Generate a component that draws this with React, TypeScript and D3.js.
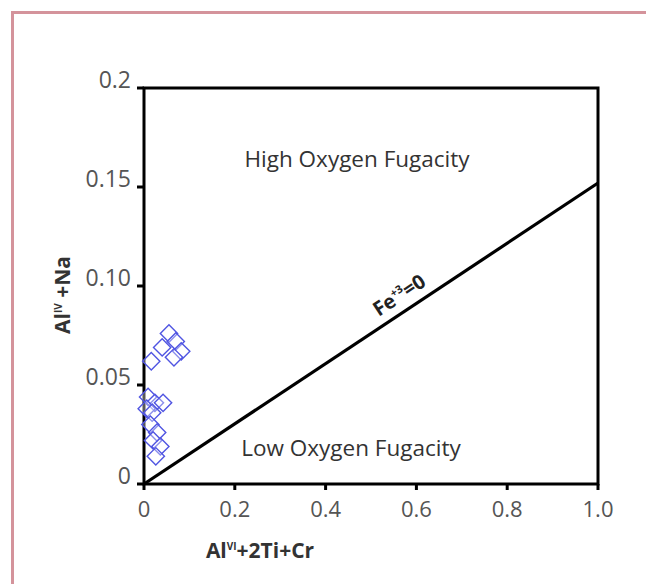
import React from "react";
import * as d3 from "d3";

const xTicks = [0, 0.2, 0.4, 0.6, 0.8, 1.0];
const xTickLabels = ["0", "0.2", "0.4", "0.6", "0.8", "1.0"];
const yTicks = [0, 0.05, 0.1, 0.15, 0.2];
const yTickLabels = ["0", "0.05", "0.10", "0.15", "0.2"];
const lineX = [0, 1.0];
const lineY = [0, 0.152];
const ptsX = [0.055, 0.07, 0.04, 0.082, 0.066, 0.016,
  0.009, 0.024, 0.042, 0.006, 0.018,
  0.014, 0.029, 0.02, 0.036, 0.026];
const ptsY = [0.076, 0.072, 0.069, 0.067, 0.064, 0.062,
  0.044, 0.041, 0.041, 0.038, 0.036,
  0.030, 0.026, 0.022, 0.019, 0.014];

export default function App() {
  const W = 646, H = 584;
  const x = d3.scaleLinear().domain([0, 1]).range([144, 598]);
  const y = d3.scaleLinear().domain([0, 0.2]).range([484, 88]);
  const line = d3.line<number>().x((_, i) => x(lineX[i])).y((d) => y(d));
  const sym = d3.symbol().type(d3.symbolSquare).size(150)();
  const ang = (Math.atan2(y(lineY[1]) - y(lineY[0]), x(lineX[1]) - x(lineX[0])) * 180) / Math.PI;
  const f = "'Open Sans', sans-serif";
  return (
    <svg width={W} height={H} style={{ position: "absolute", left: 0, top: 0 }}>
      <rect x={0} y={0} width={W} height={H} fill="#fff" />
      <path d={`M12.5,${H + 5} V12.5 H${W + 5}`} fill="none" stroke="#d4939b" strokeWidth={3} />
      <rect x={x(0)} y={y(0.2)} width={x(1) - x(0)} height={y(0) - y(0.2)} fill="none" stroke="#000" strokeWidth={3} />
      {yTicks.map((t, i) => (
        <g key={"y" + i}>
          <line x1={x(0) - 7} x2={x(0)} y1={y(t)} y2={y(t)} stroke="#000" strokeWidth={3} />
          <text x={x(0) - 13} y={y(t)} dy="0.02em" textAnchor="end" fontFamily={f} fontSize={23} fill="#555">
            {yTickLabels[i]}
          </text>
        </g>
      ))}
      {xTicks.map((t, i) => (
        <g key={"x" + i}>
          <line x1={x(t)} x2={x(t)} y1={y(0)} y2={y(0) + 6} stroke="#000" strokeWidth={3} />
          <text x={x(t)} y={y(0) + 33} textAnchor="middle" fontFamily={f} fontSize={22} fill="#555">
            {xTickLabels[i]}
          </text>
        </g>
      ))}
      <path d={line(lineY) || ""} fill="none" stroke="#000" strokeWidth={3.2} />
      <text transform={`translate(403,301) rotate(${ang})`} textAnchor="middle" fontFamily={f} fontWeight="bold" fontSize={20} fill="#222">
        Fe<tspan dy={-8} fontSize={11}>+3</tspan><tspan dy={8}>=0</tspan>
      </text>
      <text x={357} y={167} textAnchor="middle" fontFamily={f} fontSize={22.5} fill="#333">
        High Oxygen Fugacity
      </text>
      <text x={351} y={456} textAnchor="middle" fontFamily={f} fontSize={22.5} fill="#333">
        Low Oxygen Fugacity
      </text>
      <text x={260} y={558} textAnchor="middle" fontFamily={f} fontWeight="bold" fontSize={21} fill="#333">
        Al<tspan dy={-8} fontSize={10}>VI</tspan><tspan dy={8}>+2Ti+Cr</tspan>
      </text>
      <text transform="translate(70,295) rotate(-90)" textAnchor="middle" fontFamily={f} fontWeight="bold" fontSize={21} fill="#333">
        Al<tspan dy={-8} fontSize={10}>IV</tspan><tspan dy={8}> +Na</tspan>
      </text>
      {ptsX.map((px, i) => (
        <path key={"p" + i} d={sym || ""} transform={`translate(${x(px)},${y(ptsY[i])}) rotate(45)`}
          fill="#fff" fillOpacity={0.35} stroke="#5055e2" strokeWidth={1.4} />
      ))}
    </svg>
  );
}
